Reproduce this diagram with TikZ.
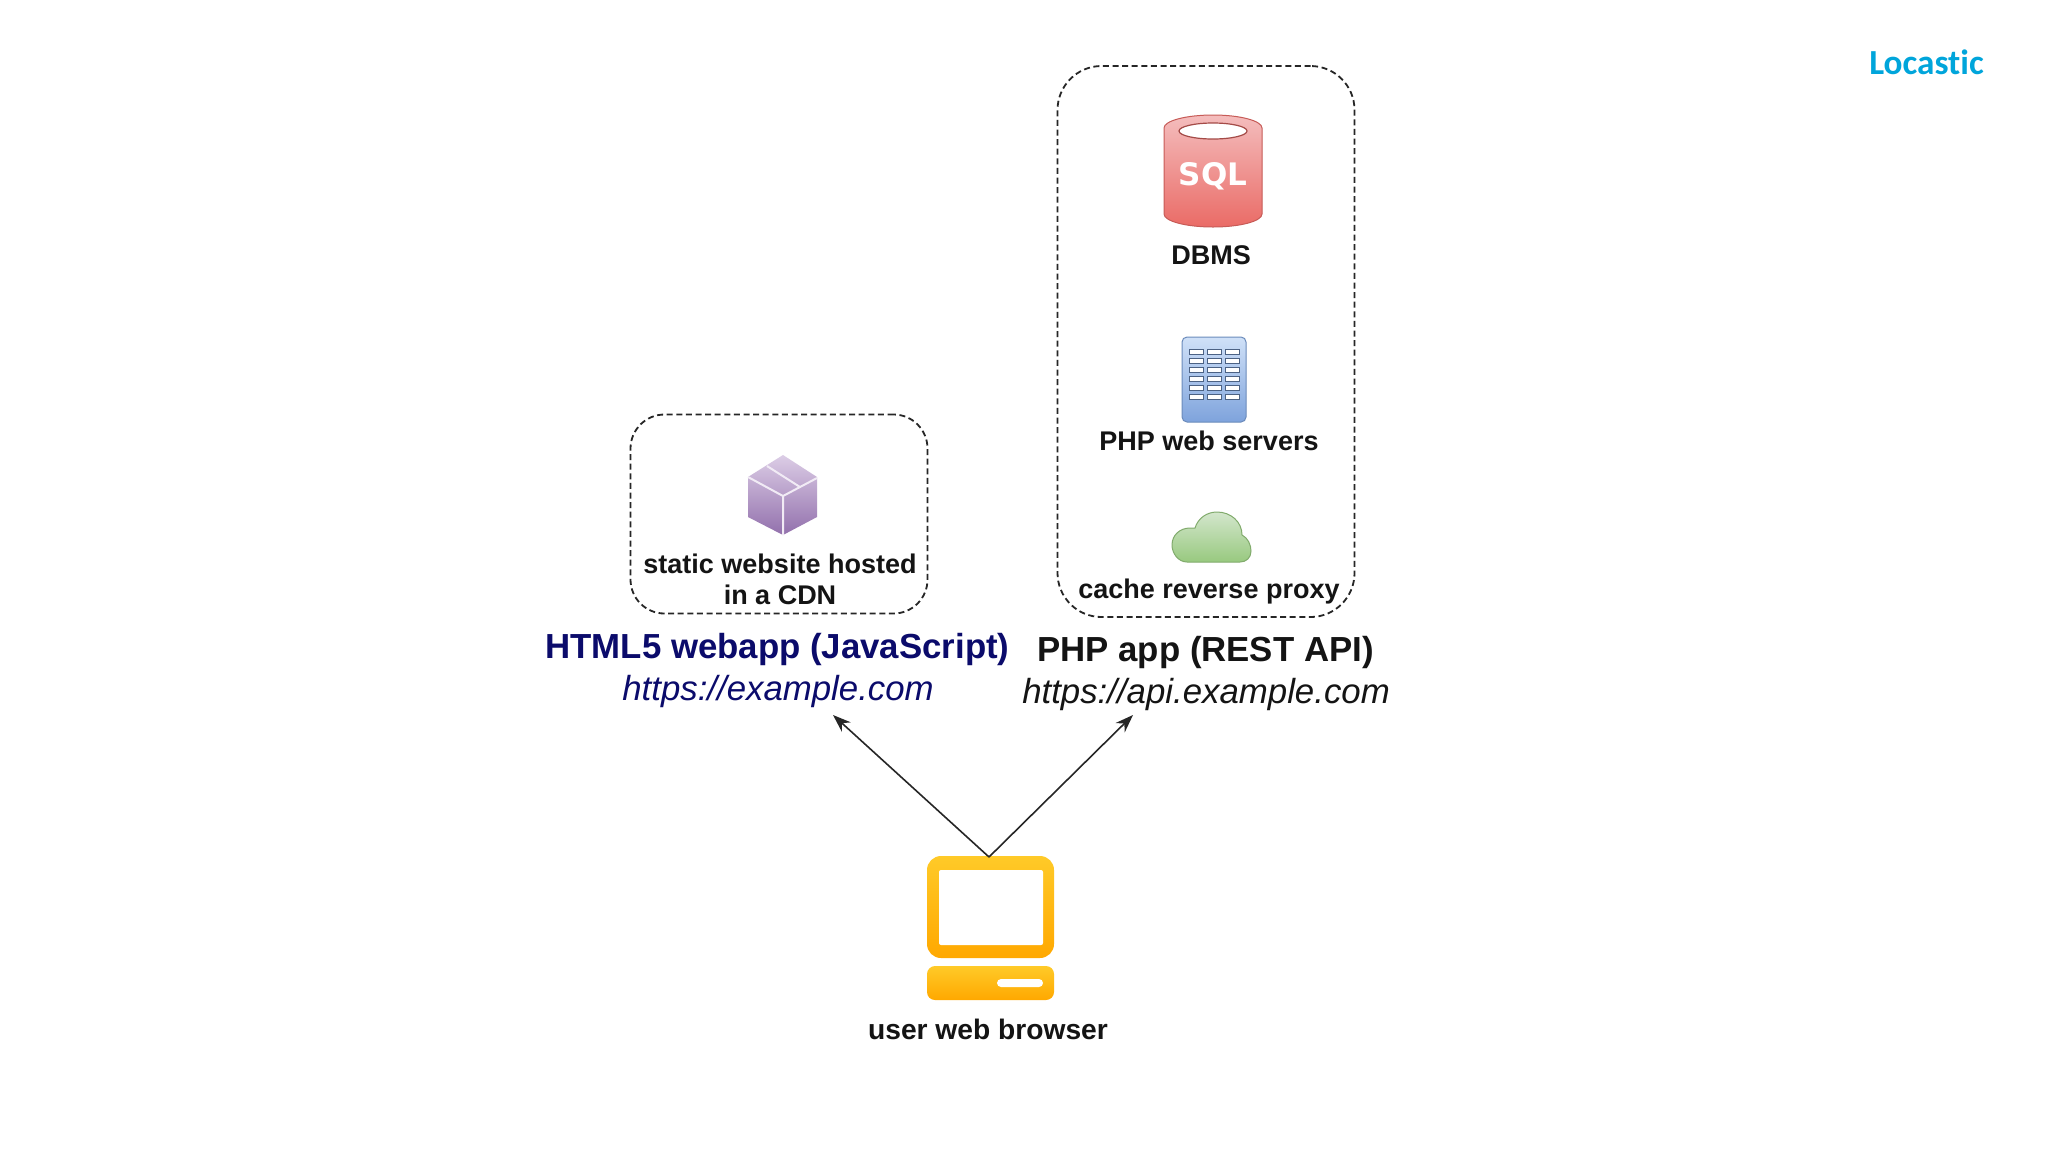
\documentclass[tikz,border=0pt]{standalone}
\usepackage{fontspec}
\setmainfont{Liberation Sans}
\newfontfamily\carl[Ligatures=NoCommon]{Carlito}
\newfontfamily\dejav{DejaVu Sans}
\usetikzlibrary{arrows.meta}
\definecolor{navy}{HTML}{0B0B6B}
\definecolor{locblue}{HTML}{00A5DB}
\definecolor{goldtop}{HTML}{FFCA28}
\definecolor{goldbot}{HTML}{FFA800}
\tikzset{
  dashbox/.style={draw=black!85,line width=0.9pt,dash pattern=on 3pt off 1.8pt,rounded corners=#1,fill=none},
  lbl/.style={font=\fontsize{13.5}{15.5}\selectfont\bfseries,text=black!92,align=center,inner sep=0pt},
  title/.style={font=\fontsize{17.4}{20}\selectfont\bfseries,inner sep=0pt},
  url/.style={font=\fontsize{17.4}{20}\selectfont\itshape,inner sep=0pt},
  conn/.style={draw=black!85,line width=0.8pt,-{Stealth[length=9pt,width=6.5pt]}},
  goldfill/.style={rectangle,top color=goldtop,bottom color=goldbot,inner sep=0pt,minimum width=63.5pt}
}
\begin{document}
\begin{tikzpicture}[x=0.5pt,y=-0.5pt]
\useasboundingbox (0,0) rectangle (2048,1152);
\fill[white] (0,0) rectangle (2048,1152);
% logo
\node[font=\fontsize{17.6}{18}\selectfont\carl\bfseries,text=locblue,inner sep=0pt] (logo) at (1926.5,62.5) {Locastic};
% dashed groups
\node[dashbox=22pt,minimum width=148.5pt,minimum height=275.5pt,inner sep=0pt] (apibox) at (1206,341.5) {};
\node[dashbox=17pt,minimum width=148.5pt,minimum height=99.5pt,inner sep=0pt] (cdnbox) at (779,514) {};
% database
\definecolor{dbtop}{HTML}{F4BDBD}\definecolor{dbbot}{HTML}{EA6B66}
\path[draw=dbbot!85!black,line width=0.5pt,top color=dbtop,bottom color=dbbot]
  (1164,128) arc[x radius=49,y radius=13,start angle=180,end angle=360] -- (1262,214)
  arc[x radius=49,y radius=13,start angle=0,end angle=180] -- cycle;
\draw[draw=dbbot!70!black,fill=white,line width=0.6pt] (1213,131) ellipse[x radius=34,y radius=8];
\node[font=\fontsize{15.5}{16}\selectfont\dejav\bfseries,text=white,inner sep=0pt] (sql) at (1213,176) {SQL};
\node[lbl] (dbms) at (1211,255) {DBMS};
% server
\definecolor{svtop}{HTML}{D0E1F8}\definecolor{svbot}{HTML}{7EA3DC}
\path[draw=svbot!85!black,line width=0.5pt,rounded corners=2.5pt,top color=svtop,bottom color=svbot] (1182,337) rectangle (1246,422);
\foreach \cx in {1196,1214,1232}\foreach \cy in {352,361,370,379,388,397}
  \draw[draw=svbot!60!black,fill=white,line width=0.4pt] (\cx-7,\cy-2.5) rectangle (\cx+7,\cy+2.5);
\node[lbl] (php) at (1209,440.5) {PHP web servers};
% cloud
\definecolor{cltop}{HTML}{D3E6CC}\definecolor{clbot}{HTML}{98C97F}
\path[draw=clbot!85!black,line width=0.5pt,top color=cltop,bottom color=clbot]
  (1187,562) .. controls (1178,562) and (1172,553) .. (1172,545)
  .. controls (1172,535) and (1180,528) .. (1190,528) -- (1195,528)
  .. controls (1198,518) and (1207,512) .. (1217,512)
  .. controls (1231,512) and (1242,522) .. (1242,535)
  .. controls (1248,538) and (1251,545) .. (1251,551)
  .. controls (1251,558) and (1246,562) .. (1240,562) -- cycle;
\node[lbl] (cache) at (1209,591.5) {cache reverse proxy};
% package
\definecolor{cbtop}{HTML}{DCCDE6}\definecolor{cbbot}{HTML}{9270AC}
\path[top color=cbtop,bottom color=cbbot] (783,455) -- (817,477) -- (817,517) -- (783,535) -- (748,517) -- (748,477) -- cycle;
\draw[cbtop!40!white,line width=1pt] (748,477) -- (783,496) -- (817,478) (783,496) -- (783,535) (767,466) -- (800,487);
\node[lbl] (cdn) at (780,579) {static website hosted\\in a CDN};
% titles
\node[title,text=navy] (htmlt) at (777.5,649) {HTML5 webapp (JavaScript)};
\node[url,text=navy] (htmlu) at (778,691) {https://example.com};
\node[title,text=black!92] (phpt) at (1205.5,652) {PHP app (REST API)};
\node[url,text=black!92] (phpu) at (1206,694) {https://api.example.com};
% computer
\node[goldfill,rounded corners=7pt,minimum height=51pt] (monitor) at (990.5,907) {};
\node[rectangle,rounded corners=1pt,fill=white,minimum width=52pt,minimum height=37.5pt,inner sep=0pt] (screen) at (991,907.5) {};
\node[goldfill,rounded corners=4pt,minimum height=17pt] (base) at (990.5,983) {};
\node[rectangle,rounded corners=2pt,fill=white,minimum width=23pt,minimum height=4pt,inner sep=0pt] (slot) at (1020,983) {};
\node[lbl,font=\fontsize{14.1}{15.5}\selectfont\bfseries] (browser) at (988,1029) {user web browser};
% connectors
\coordinate (start) at (989,857);
\coordinate (tipl) at (833,715);
\coordinate (tipr) at (1133,715);
\draw[conn] (start) -- (tipl);
\draw[conn] (start) -- (tipr);
\end{tikzpicture}
\end{document}
